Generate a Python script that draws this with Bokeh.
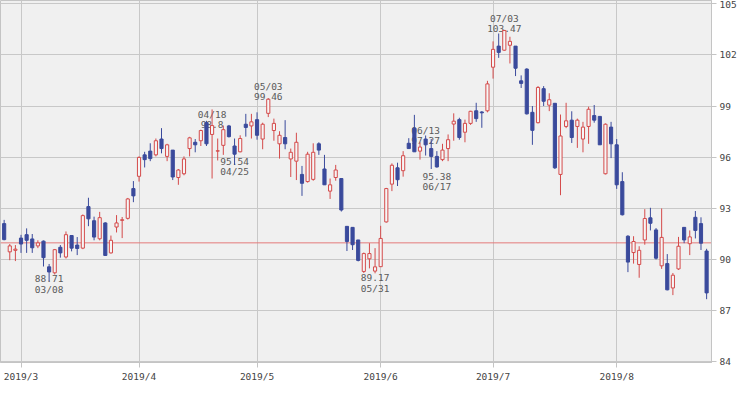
import pandas as pd
from bokeh.plotting import figure
from bokeh.models import ColumnDataSource, FixedTicker, Span
from bokeh.core.properties import value
from bokeh.embed import file_html
from bokeh.resources import INLINE

# ---- data ----
holidays = ["2019-04-19", "2019-05-27", "2019-07-04"]
dates = [d for d in pd.bdate_range("2019-02-26", "2019-08-23") if d.strftime("%Y-%m-%d") not in holidays]

opens = [92.09, 90.43, 90.52, 91.24, 91.44, 91.19, 90.78, 91.06, 89.55, 89.20,
         90.70, 90.13, 91.39, 90.83, 90.65, 93.09, 92.26, 91.20, 92.13, 90.37,
         91.89, 92.28, 92.40, 94.15, 94.87, 96.13, 96.35, 96.13, 97.06, 96.04,
         96.41, 94.80, 95.02, 96.50, 96.87, 96.96, 98.02, 97.33, 96.35, 96.69,
         97.83, 96.65, 96.31, 97.93, 97.83, 98.20, 97.06, 98.57, 97.56, 96.78,
         97.15, 95.89, 95.76, 94.98, 94.56, 94.69, 96.78, 95.30, 94.00, 94.80,
         94.74, 91.93, 91.87, 91.13, 89.28, 90.02, 89.30, 89.56, 92.19, 94.41,
         95.37, 95.20, 96.81, 97.70, 96.35, 97.06, 96.50, 96.04, 95.85, 96.50,
         97.94, 98.20, 97.46, 97.98, 98.72, 98.65, 98.72, 101.28, 102.52, 102.28,
         102.57, 102.52, 100.48, 101.17, 98.63, 98.02, 100.02, 99.05, 99.16, 94.98,
         97.80, 98.17, 97.80, 97.06, 97.80, 98.44, 98.39, 95.02, 97.76, 96.72,
         94.56, 91.35, 90.39, 89.69, 91.13, 92.43, 91.72, 89.61, 89.74, 88.31,
         89.43, 91.87, 90.91, 92.46, 92.09, 90.48]
highs = [92.31, 90.89, 90.83, 91.43, 91.81, 91.48, 91.11, 91.10, 89.72, 90.60,
         90.83, 91.63, 91.39, 91.30, 92.63, 93.61, 92.50, 92.78, 92.17, 91.39,
         92.59, 92.48, 93.60, 94.59, 96.04, 96.31, 96.81, 97.09, 97.70, 96.78,
         96.41, 95.30, 96.04, 97.19, 97.06, 97.61, 98.13, 98.80, 97.09, 97.85,
         97.89, 97.09, 97.28, 98.54, 98.54, 98.63, 98.02, 99.46, 98.26, 97.52,
         98.17, 96.50, 97.43, 95.48, 96.31, 96.81, 96.87, 96.13, 94.74, 95.54,
         94.74, 91.93, 91.87, 91.13, 90.39, 90.94, 90.65, 91.96, 94.19, 95.63,
         95.67, 96.35, 97.11, 98.48, 96.87, 97.27, 97.06, 96.35, 96.78, 97.33,
         98.57, 98.31, 98.20, 98.72, 99.19, 98.70, 100.48, 102.80, 103.26, 103.47,
         103.07, 102.52, 100.80, 101.22, 99.00, 100.17, 100.17, 99.75, 99.16, 98.50,
         99.19, 98.69, 98.26, 98.07, 98.96, 99.06, 98.39, 97.98, 98.07, 97.06,
         95.11, 91.41, 91.35, 90.76, 92.94, 93.02, 91.83, 92.98, 90.30, 89.19,
         91.31, 91.87, 91.69, 92.83, 92.46, 90.61]
lows = [91.11, 89.94, 89.89, 90.37, 90.37, 90.37, 90.65, 89.57, 88.71, 89.10,
        90.09, 90.04, 90.46, 90.24, 90.59, 91.94, 91.11, 91.11, 90.19, 90.33,
        91.57, 91.24, 92.33, 93.35, 94.56, 95.39, 95.76, 96.04, 96.22, 95.76,
        94.65, 94.37, 94.93, 96.04, 96.28, 96.65, 96.65, 94.74, 95.80, 96.13,
        97.15, 95.54, 96.28, 97.20, 97.09, 97.02, 96.46, 98.35, 96.96, 95.91,
        96.46, 94.83, 94.65, 93.72, 94.50, 94.61, 96.13, 94.37, 93.54, 94.61,
        92.80, 90.48, 90.54, 89.87, 89.19, 89.46, 89.17, 89.56, 92.15, 94.00,
        94.30, 94.85, 96.50, 96.31, 95.85, 96.09, 95.30, 95.38, 95.76, 95.76,
        96.96, 97.02, 96.87, 97.89, 98.07, 97.72, 98.63, 100.61, 101.83, 102.24,
        101.50, 100.76, 100.06, 98.50, 96.72, 97.98, 99.00, 98.70, 95.30, 93.76,
        97.70, 96.83, 96.54, 96.28, 96.78, 98.02, 96.72, 94.98, 95.94, 94.13,
        92.57, 89.24, 89.74, 88.91, 90.85, 91.69, 89.98, 89.43, 88.17, 87.89,
        89.37, 90.94, 90.24, 91.22, 90.54, 87.65]
closes = [91.15, 90.78, 90.59, 90.89, 91.11, 90.67, 90.96, 90.09, 89.25, 90.56,
          90.37, 91.44, 90.65, 90.63, 92.56, 92.37, 91.30, 92.44, 90.22, 91.11,
          92.13, 92.32, 93.54, 93.72, 95.98, 95.85, 95.91, 96.96, 96.50, 96.72,
          94.83, 95.24, 95.89, 97.13, 96.72, 97.56, 96.78, 97.85, 96.37, 97.61,
          97.20, 96.17, 97.09, 97.74, 98.07, 97.28, 97.93, 99.40, 97.98, 97.28,
          96.78, 96.28, 96.87, 94.46, 96.17, 96.28, 96.41, 94.37, 94.37, 95.24,
          92.89, 91.04, 90.85, 89.93, 90.33, 90.33, 89.55, 91.22, 94.15, 95.52,
          94.67, 96.08, 96.50, 96.31, 96.59, 96.72, 96.04, 95.42, 96.41, 97.02,
          98.11, 97.15, 97.98, 98.69, 98.26, 98.60, 100.30, 102.33, 102.15, 103.44,
          102.80, 101.22, 100.33, 98.54, 97.57, 100.09, 99.28, 99.37, 95.37, 97.24,
          98.13, 97.15, 98.17, 97.76, 98.81, 98.17, 96.72, 97.93, 96.78, 94.37,
          92.61, 89.83, 91.04, 90.52, 92.39, 92.11, 90.06, 91.28, 88.20, 89.06,
          90.76, 91.13, 91.31, 91.69, 90.94, 88.02]

ref_price = 90.96
y_ticks = [84, 87, 90, 93, 96, 99, 102, 105]

high_label_idx = [37, 47, 75, 89]
high_label_date = ["04/18", "05/03", "06/13", "07/03"]
high_label_val = ["98.8", "99.46", "97.27", "103.47"]
low_label_idx = [8, 41, 66, 77]
low_label_date = ["03/08", "04/25", "05/31", "06/17"]
low_label_val = ["88.71", "95.54", "89.17", "95.38"]

# ---- styling / layout (not data) ----
high_shift = [15, -2, 5, -1]
low_shift = [-10, -11, -3, 1]
RED = "#d44a4a"
BLUE = "#3a4a9c"
HOLLOW = "#f6f6f6"
FONT = "DejaVu Sans Mono"
TXT = "#5a5a5a"

n = len(opens)
xs = list(range(n))
is_up = [c >= o for o, c in zip(opens, closes)]
src = ColumnDataSource(dict(
    x=xs, o=opens, h=highs, l=lows, c=closes,
    top=[max(o, c) for o, c in zip(opens, closes)],
    bot=[min(o, c) for o, c in zip(opens, closes)],
    line=[RED if u else BLUE for u in is_up],
    fill=[HOLLOW if u else BLUE for u in is_up],
))

month_ticks = [i for i in range(1, n) if dates[i].month != dates[i - 1].month]
month_labels = {i: f"{dates[i].year}/{dates[i].month}" for i in month_ticks}

p = figure(width=739, height=384, output_backend="svg", toolbar_location=None,
           x_range=(-0.65, n - 0.13), y_range=(83.93, 105.2),
           y_axis_location="right", min_border_left=0, min_border_top=0,
           min_border_right=1, min_border_bottom=0)
p.background_fill_color = "#f0f0f0"
p.border_fill_color = "#ffffff"
p.outline_line_color = "#c4c4c4"

p.xaxis.ticker = FixedTicker(ticks=month_ticks)
p.xaxis.major_label_overrides = month_labels
p.yaxis.ticker = FixedTicker(ticks=y_ticks)
for ax in (p.xaxis[0], p.yaxis[0]):
    ax.axis_line_color = "#c4c4c4"
    ax.major_tick_line_color = "#c4c4c4"
    ax.major_tick_out = 5
    ax.major_tick_in = 0
    ax.minor_tick_line_color = None
    ax.major_label_text_font = FONT
    ax.major_label_text_font_size = "9.5px"
    ax.major_label_text_color = "#444444"
    ax.major_label_standoff = 3
p.xgrid.ticker = FixedTicker(ticks=month_ticks)
p.ygrid.ticker = FixedTicker(ticks=y_ticks)
p.grid.grid_line_color = "#c8c8c8"
p.grid.grid_line_width = 1

p.add_layout(Span(location=ref_price, dimension="width", line_color="#e47a7a",
                  line_width=1, level="underlay"))

# labels (drawn under the candles)
hsrc = ColumnDataSource(dict(
    x=high_label_idx, y=[highs[i] for i in high_label_idx],
    d=high_label_date, v=high_label_val,
    off_v=high_shift, off_d=[s - 10 for s in high_shift]))
lsrc = ColumnDataSource(dict(
    x=low_label_idx, y=[lows[i] for i in low_label_idx],
    d=low_label_date, v=low_label_val,
    off_v=[s + 7.5 for s in low_shift], off_d=[s + 18 for s in low_shift]))
for s in (hsrc, lsrc):
    for col, off in (("v", "off_v"), ("d", "off_d")):
        p.text(x="x", y="y", text=col, source=s, y_offset=off,
               text_align="center", text_baseline="alphabetic",
               text_font=value(FONT), text_font_size="9.5px", text_color=TXT)

p.segment(x0="x", y0="h", x1="x", y1="l", source=src, line_color="line", line_width=1)
p.vbar(x="x", top="top", bottom="bot", width=0.56, source=src,
       fill_color="fill", line_color="line", line_width=1)

open("out.html", "w").write(file_html(p, INLINE))
